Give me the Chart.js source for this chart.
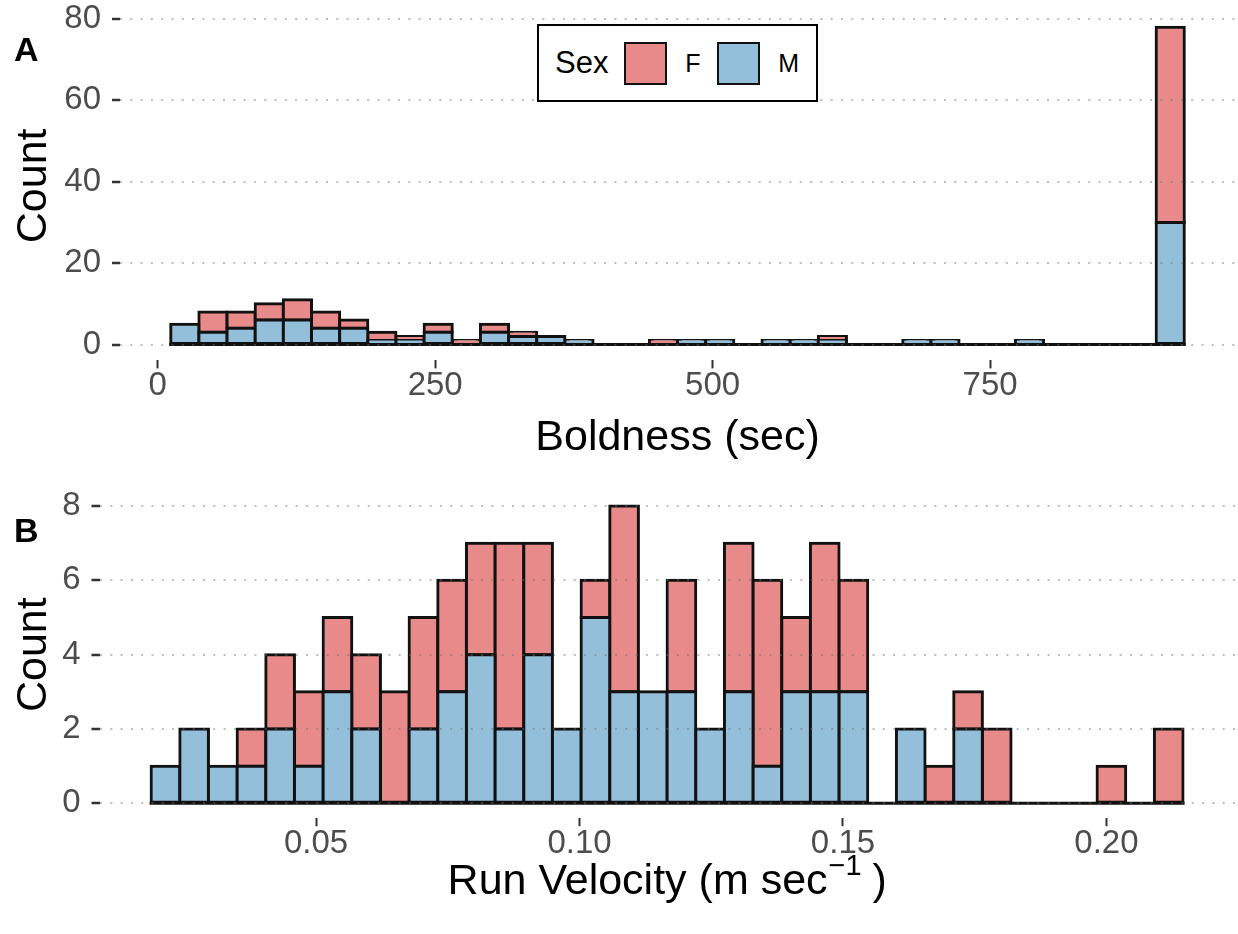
<!DOCTYPE html>
<html>
<head>
<meta charset="utf-8">
<title>Boldness and run velocity by sex</title>
<script src="https://cdn.jsdelivr.net/npm/chart.js@4.4.1/dist/chart.umd.min.js"></script>
<style>
  body { margin: 0; background: #fff; font-family: "Liberation Sans", Arial, sans-serif; }
  #wrap { position: relative; width: 1238px; height: 934px; overflow: hidden; background: #fff; }
  canvas { position: absolute; left: 0; }
  #chartA { top: 0; }
  #chartB { top: 466px; }
  .panel { position: absolute; left: 14px; font-size: 34px; font-weight: bold; line-height: 1; color: #000; }
  #legend {
    position: absolute; left: 537px; top: 24px; width: 281px; height: 78px;
    box-sizing: border-box; border: 2px solid #000; background: #fff;
    display: flex; align-items: center; padding-left: 16px;
  }
  #legend .ttl { font-size: 31px; margin-right: 16px; }
  #legend .sw { width: 44px; height: 43px; box-sizing: border-box; border: 2px solid #111; }
  #legend .lb { font-size: 25px; margin: 0 17px 0 18px; }
</style>
</head>
<body>
<div id="wrap">
  <canvas id="chartA" width="1238" height="466"></canvas>
  <canvas id="chartB" width="1238" height="468"></canvas>
  <div class="panel" style="top:32px">A</div>
  <div class="panel" style="top:513px">B</div>
  <div id="legend"></div>
</div>
<script>
// boldness (sec): 36 bins, counts per sex
const boldBinStart = 11.7;
const boldBinWidth = 25.37;
const boldM = [5,3,4,6,6,4,4,1,1,3, 0,3,2,2,1,0,0,0,1,1, 0,1,1,1,0,0,1,1,0,0, 1,0,0,0,0,30];
const boldF = [0,5,4,4,5,4,2,2,1,2, 1,2,1,0,0,0,0,1,0,0, 0,0,0,1,0,0,0,0,0,0, 0,0,0,0,0,48];
const boldTicksX = [0, 250, 500, 750];
const boldTicksY = [0, 20, 40, 60, 80];

// run velocity (m/sec): 36 bins, counts per sex
const velBinStart = 0.0187;
const velBinWidth = 0.00544;
const velM = [1,2,1,1,2,1,3,2,0,2, 3,4,2,4,2,5,3,3,3,2, 3,1,3,3,3,0,2,0,2,0, 0,0,0,0,0,0];
const velF = [0,0,0,1,2,2,2,2,3,3, 3,3,5,3,0,1,5,0,3,0, 4,5,2,4,3,0,0,1,1,2, 0,0,0,1,0,2];
const velTicksX = [0.05, 0.10, 0.15, 0.20];
const velTicksY = [0, 2, 4, 6, 8];

const sexNames = { F: 'F', M: 'M' };
const sexColors = { F: '#E8898A', M: '#93BFDB' };

const FONT = '"Liberation Sans", Arial, sans-serif';
const EDGE = '#111';
const TICK_SIZE = 33;
const TITLE_SIZE = 43;

function centers(start, width, n) {
  const out = [];
  for (let i = 0; i < n; i++) out.push(start + width * (i + 0.5));
  return out;
}

// empty bins are left out, the baseline plugin draws the floor line
function toPoints(xs, counts) {
  return counts.map((c, i) => ({ x: xs[i], y: c > 0 ? c : null }));
}

const baseline = {
  id: 'baseline',
  afterDatasetsDraw(chart, args, opts) {
    const { ctx, scales: { x, y } } = chart;
    const y0 = y.getPixelForValue(0);
    ctx.save();
    ctx.strokeStyle = EDGE;
    ctx.lineWidth = 3;
    ctx.beginPath();
    ctx.moveTo(x.getPixelForValue(opts.from) - 1.5, y0);
    ctx.lineTo(x.getPixelForValue(opts.to) + 1.5, y0);
    ctx.stroke();
    ctx.restore();
  }
};

// x title with a superscript part
const supTitle = {
  id: 'supTitle',
  afterDraw(chart, args, opts) {
    if (!opts.text) return;
    const { ctx, chartArea } = chart;
    const big = TITLE_SIZE + 'px ' + FONT;
    const small = '29px ' + FONT;
    ctx.save();
    ctx.font = big;
    const w1 = ctx.measureText(opts.text).width;
    const w3 = ctx.measureText(opts.after).width;
    ctx.font = small;
    const w2 = ctx.measureText(opts.sup).width;
    let x = (chartArea.left + chartArea.right) / 2 - (w1 + w2 + w3) / 2;
    const y = chart.scales.x.bottom - opts.offset;
    ctx.fillStyle = '#000';
    ctx.textAlign = 'left';
    ctx.textBaseline = 'alphabetic';
    ctx.font = big;
    ctx.fillText(opts.text, x, y);
    x += w1;
    ctx.font = small;
    ctx.fillText(opts.sup, x + 1, y - 19);
    x += w2;
    ctx.font = big;
    ctx.fillText(opts.after, x, y);
    ctx.restore();
  }
};

function histogram(id, cfg) {
  const xs = centers(cfg.binStart, cfg.binWidth, cfg.m.length);
  const barStyle = {
    borderColor: EDGE,
    borderWidth: 3,
    borderSkipped: false,
    inflateAmount: 1.5,
    barPercentage: 1,
    categoryPercentage: 1
  };
  return new Chart(document.getElementById(id), {
    type: 'bar',
    data: {
      datasets: [
        Object.assign({ label: sexNames.M, data: toPoints(xs, cfg.m), backgroundColor: sexColors.M }, barStyle),
        Object.assign({ label: sexNames.F, data: toPoints(xs, cfg.f), backgroundColor: sexColors.F }, barStyle)
      ]
    },
    options: {
      responsive: false,
      animation: false,
      layout: { padding: { top: cfg.top, right: 3, left: 0, bottom: 0 } },
      plugins: {
        legend: { display: false },
        tooltip: { enabled: false },
        baseline: { from: cfg.binStart, to: cfg.binStart + cfg.binWidth * cfg.m.length },
        supTitle: cfg.supTitle || {}
      },
      scales: {
        x: {
          type: 'linear',
          stacked: true,
          offset: false,
          min: cfg.xMin,
          max: cfg.xMax,
          afterBuildTicks: s => { s.ticks = cfg.xTicks.map(v => ({ value: v })); },
          afterFit: s => { s.height = cfg.xHeight; s.paddingLeft = 0; s.paddingRight = 0; },
          grid: { offset: false, drawOnChartArea: false, drawTicks: true, tickLength: 8, tickColor: '#333', tickWidth: 2 },
          border: { display: false },
          ticks: {
            padding: -2,
            color: '#4D4D4D',
            font: { family: FONT, size: TICK_SIZE },
            maxRotation: 0,
            autoSkip: false,
            callback: cfg.xFormat
          },
          title: {
            display: !!cfg.xTitle,
            text: cfg.xTitle,
            color: '#000',
            font: { family: FONT, size: TITLE_SIZE },
            padding: { top: 0, bottom: 2 }
          }
        },
        y: {
          stacked: true,
          min: cfg.yMin,
          max: cfg.yMax,
          afterBuildTicks: s => { s.ticks = cfg.yTicks.map(v => ({ value: v })); },
          afterFit: s => { s.width = cfg.yWidth; s.paddingTop = 0; s.paddingBottom = 0; },
          grid: {
            color: 'rgba(110,110,110,0.45)',
            lineWidth: 2,
            z: 1,
            tickLength: 8,
            tickColor: '#333',
            tickWidth: 2.5,
            tickBorderDash: []
          },
          border: { display: false, dash: [2, 8.3] },
          ticks: {
            padding: 11,
            color: '#4D4D4D',
            font: { family: FONT, size: TICK_SIZE },
            callback: v => String(v)
          },
          title: {
            display: true,
            text: 'Count',
            color: '#000',
            font: { family: FONT, size: TITLE_SIZE },
            padding: { top: 8, bottom: 0 }
          }
        }
      }
    },
    plugins: [baseline, supTitle]
  });
}

const chartA = histogram('chartA', {
  binStart: boldBinStart, binWidth: boldBinWidth, m: boldM, f: boldF,
  xMin: -34, xMax: 970.7, xTicks: boldTicksX, xFormat: v => String(v),
  yMin: -3.9, yMax: 81.9, yTicks: boldTicksY,
  top: 11.3, xHeight: 105.6, yWidth: 120,
  xTitle: 'Boldness (sec)'
});

const chartB = histogram('chartB', {
  binStart: velBinStart, binWidth: velBinWidth, m: velM, f: velF,
  xMin: 0.0089, xMax: 0.2244, xTicks: velTicksX, xFormat: v => v.toFixed(2),
  yMin: -0.4, yMax: 8.4, yTicks: velTicksY,
  top: 25.1, xHeight: 115.8, yWidth: 99.5,
  xTitle: '',
  supTitle: { text: 'Run Velocity (m sec', sup: '\u22121', after: ' )', offset: 40 }
});

// legend box built from the first chart's datasets, F listed first
const legend = document.getElementById('legend');
const ttl = document.createElement('span');
ttl.className = 'ttl';
ttl.textContent = 'Sex';
legend.appendChild(ttl);
chartA.data.datasets.slice().reverse().forEach(ds => {
  const sw = document.createElement('span');
  sw.className = 'sw';
  sw.style.background = ds.backgroundColor;
  const lb = document.createElement('span');
  lb.className = 'lb';
  lb.textContent = ds.label;
  legend.appendChild(sw);
  legend.appendChild(lb);
});
</script>
</body>
</html>
